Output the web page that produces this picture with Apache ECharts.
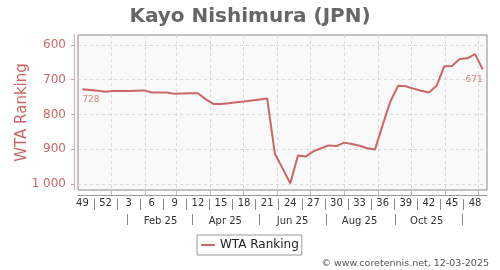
<!DOCTYPE html>
<html>
<head>
<meta charset="utf-8">
<script src="https://cdn.jsdelivr.net/npm/echarts@6/dist/echarts.min.js"></script>
<style>html,body{margin:0;padding:0;background:#fff}#c{width:500px;height:270px}</style>
</head>
<body>
<div id="c"></div>
<script>
// ---- data ----
const playerTitle = 'Kayo Nishimura (JPN)';
const seriesName = 'WTA Ranking';
const credit = '\u00A9 www.coretennis.net, 12-03-2025';
const firstWeekDate = '2024-12-06';           // date of first weekly point
const weekLabels = ['49','52','3','6','9','12','15','18','21','24','27','30','33','36','39','42','45','48'];
const rankings = [728,730,732,735,733,733,733,732,731,737,737,737,741,740,739,739,756,770,770,768,
                  765,763,760,757,754,913,955,998,918,921,906,897,889,891,881,885,890,897,901,830,
                  763,718,719,726,732,737,718,662,661,641,639,627,671];
const monthStarts = ['2025-01-01','2025-02-01','2025-03-01','2025-04-01','2025-05-01','2025-06-01',
                     '2025-07-01','2025-08-01','2025-09-01','2025-10-01','2025-11-01','2025-12-01'];
const monthLabels = ['Feb 25','Apr 25','Jun 25','Aug 25','Oct 25'];
const monthLabelDates = ['2025-02-15','2025-04-15','2025-06-15','2025-08-15','2025-10-15'];
const monthSepDates = ['2025-01-16','2025-03-16','2025-05-16','2025-07-16','2025-09-16','2025-11-16'];
const yTicks = [600,700,800,900,1000];

// ---- helpers ----
const DAY = 86400000;
const t0 = Date.parse(firstWeekDate);
const pos = d => (Date.parse(d) - t0) / (7 * DAY);
const XMIN = -0.57, XMAX = 52.55;
const weekPos = weekLabels.map((_, k) => k * 3);
const weekSepPos = weekLabels.slice(1).map((_, k) => k * 3 + 1.5);
const monthStartPos = monthStarts.map(pos);
const monthLabelPos = monthLabelDates.map(pos);
const monthSepPos = monthSepDates.map(pos);
const nearest = (arr, v) => { let b = 0; arr.forEach((p, k) => { if (Math.abs(p - v) < Math.abs(arr[b] - v)) b = k; }); return b; };

const RED = '#cc6666';
const FONT = 'DejaVu Sans';
const last = rankings.length - 1;

const baseX = { type: 'value', min: XMIN, max: XMAX, position: 'bottom', gridIndex: 0,
  splitLine: { show: false }, axisLine: { show: false, onZero: false }, axisTick: { show: false }, axisLabel: { show: false } };

const chart = echarts.init(document.getElementById('c'), null, { renderer: 'canvas' });
chart.setOption({
  animation: false,
  textStyle: { fontFamily: FONT },
  title: [
    { text: playerTitle, left: 'center', top: 2,
      textStyle: { fontSize: 20, fontWeight: 'bold', color: '#666', fontFamily: FONT } },
    { text: credit, right: 11, bottom: 1, padding: 0,
      textStyle: { fontSize: 9.5, fontWeight: 'normal', color: '#555', fontFamily: FONT } }
  ],
  legend: {
    data: [seriesName], left: 197, top: 235, padding: [4, 3, 4, 4],
    borderColor: '#999', borderWidth: 1, backgroundColor: '#fff',
    icon: 'rect', itemWidth: 14, itemHeight: 2,
    textStyle: { fontSize: 12, color: '#222', fontFamily: FONT }
  },
  grid: { left: 78, top: 35, width: 409, height: 155, show: true,
    backgroundColor: '#f9f9f9', borderColor: '#888', borderWidth: 1 },
  xAxis: [
    Object.assign({}, baseX, {
      offset: 5,
      axisLine: { show: true, onZero: false, lineStyle: { color: '#999', width: 1 } },
      axisTick: { show: true, inside: true, length: 4, customValues: monthStartPos, lineStyle: { color: '#bbb' } },
      splitLine: { show: true, lineStyle: { color: '#d8d8d8', type: [3, 3] } }
    }),
    Object.assign({}, baseX, {
      offset: 5,
      axisLabel: { show: true, customValues: weekPos, margin: 3, fontSize: 10, color: '#333', fontFamily: FONT,
        formatter: v => weekLabels[nearest(weekPos, v)] }
    }),
    Object.assign({}, baseX, {
      offset: 9,
      axisTick: { show: true, length: 11, customValues: weekSepPos, lineStyle: { color: '#888' } }
    }),
    Object.assign({}, baseX, {
      offset: 24,
      axisTick: { show: true, length: 11, customValues: monthSepPos, lineStyle: { color: '#888' } },
      axisLabel: { show: true, customValues: monthLabelPos, margin: 2, fontSize: 10, color: '#333', fontFamily: FONT,
        formatter: v => monthLabels[nearest(monthLabelPos, v)] }
    })
  ],
  yAxis: {
    type: 'value', inverse: true, min: 572, max: 1017, offset: 4,
    name: seriesName, nameLocation: 'middle', nameGap: 44, nameMoveOverlap: false,
    nameTextStyle: { fontSize: 15, color: RED, fontFamily: FONT },
    axisLine: { show: true, onZero: false, lineStyle: { color: '#e3a5a5' } },
    axisTick: { show: true, length: 3, customValues: yTicks, lineStyle: { color: '#c8a0a0' } },
    axisLabel: { customValues: yTicks, margin: 8, fontSize: 12, color: RED, fontFamily: FONT,
      formatter: v => v >= 1000 ? String(v).replace(/\B(?=(\d{3})+(?!\d))/g, ' ') : String(v) },
    splitLine: { show: true, lineStyle: { color: '#d8d8d8', type: [3, 3] } }
  },
  series: [
    { name: seriesName, type: 'line', xAxisIndex: 0, symbol: 'none',
      color: RED, lineStyle: { color: RED, width: 2 },
      data: rankings.map((v, i) => [i, v]) },
    { name: 'endLabels', type: 'scatter', xAxisIndex: 0, symbol: 'circle', symbolSize: 1,
      itemStyle: { color: 'rgba(0,0,0,0)' }, silent: true,
      label: { show: true, position: 'bottom', distance: 5, fontSize: 9, color: RED, fontFamily: FONT,
        formatter: p => String(p.value[1]) },
      data: [
        { value: [0, rankings[0]], label: { align: 'left' } },
        { value: [last, rankings[last]], label: { align: 'right' } }
      ] }
  ]
});
</script>
</body>
</html>
